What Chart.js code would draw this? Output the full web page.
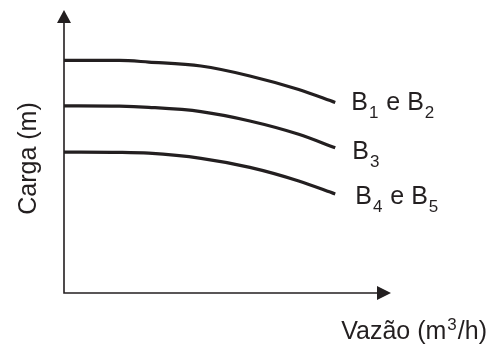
<!DOCTYPE html>
<html>
<head>
<meta charset="utf-8">
<script src="https://cdn.jsdelivr.net/npm/chart.js@4"></script>
<style>
  body { margin: 0; background: #fff; }
  canvas { display: block; }
</style>
</head>
<body>
<canvas id="grafico" width="490" height="345"></canvas>
<script>
// curvas das bombas (unidades relativas)
const vazao = [0, 17, 26, 42, 57, 72, 83.2];
const cargaB12 = [82.2, 82.2, 81.6, 80.2, 76.7, 71.9, 67.3];
const cargaB3 = [66.1, 66.0, 65.6, 64.1, 60.8, 56.1, 51.3];
const cargaB45 = [49.8, 49.7, 49.4, 47.6, 44.4, 39.6, 35.0];
const nomes = ['B_1 e B_2', 'B_3', 'B_4 e B_5'];
const tituloX = 'Vazão (m^3/h)';
const tituloY = 'Carga (m)';

const cor = '#231f20';
const fonte = '"Liberation Sans", Arial, sans-serif';

function pontos(ys) {
  return vazao.map((v, i) => ({ x: v, y: ys[i] }));
}

// escreve texto com _sub e ^sup
function textoRico(ctx, txt, x, y, tam) {
  const partes = txt.split(/([_^]\d)/);
  partes.forEach(p => {
    if (!p) return;
    if (p[0] === '_' || p[0] === '^') {
      const sub = p[0] === '_';
      ctx.font = Math.round(tam * 0.68) + 'px ' + fonte;
      const dy = sub ? tam * 0.32 : -tam * 0.38;
      ctx.fillText(p[1], x + 1, y + dy);
      x += ctx.measureText(p[1]).width + 2;
    } else {
      ctx.font = tam + 'px ' + fonte;
      ctx.fillText(p, x, y);
      x += ctx.measureText(p).width;
    }
  });
  return x;
}

function largura(ctx, txt, tam) {
  let w = 0;
  txt.split(/([_^]\d)/).forEach(p => {
    if (!p) return;
    if (p[0] === '_' || p[0] === '^') {
      ctx.font = Math.round(tam * 0.68) + 'px ' + fonte;
      w += ctx.measureText(p[1]).width + 2;
    } else {
      ctx.font = tam + 'px ' + fonte;
      w += ctx.measureText(p).width;
    }
  });
  return w;
}

const eixos = {
  id: 'eixos',
  beforeDatasetsDraw(chart) {
    const ctx = chart.ctx;
    const a = chart.chartArea;
    ctx.save();
    ctx.strokeStyle = cor;
    ctx.fillStyle = cor;
    ctx.lineWidth = 1.6;
    ctx.beginPath();
    ctx.moveTo(a.left, a.bottom);
    ctx.lineTo(a.left, a.top + 12);
    ctx.moveTo(a.left - 0.8, a.bottom);
    ctx.lineTo(a.right - 12, a.bottom);
    ctx.stroke();
    // setas
    ctx.beginPath();
    ctx.moveTo(a.left, a.top);
    ctx.lineTo(a.left - 7, a.top + 13);
    ctx.lineTo(a.left + 7, a.top + 13);
    ctx.closePath();
    ctx.fill();
    ctx.beginPath();
    ctx.moveTo(a.right + 1, a.bottom);
    ctx.lineTo(a.right - 13, a.bottom - 7);
    ctx.lineTo(a.right - 13, a.bottom + 7);
    ctx.closePath();
    ctx.fill();
    ctx.restore();
  },
  afterDatasetsDraw(chart) {
    const ctx = chart.ctx;
    const a = chart.chartArea;
    ctx.save();
    ctx.fillStyle = cor;
    ctx.textBaseline = 'alphabetic';
    ctx.textAlign = 'left';
    // nomes no fim de cada curva
    const desl = [[16, 7], [17, 11], [20, 10]];
    chart.data.datasets.forEach((ds, i) => {
      const meta = chart.getDatasetMeta(i);
      const ult = meta.data[meta.data.length - 1];
      textoRico(ctx, nomes[i], ult.x + desl[i][0], ult.y + desl[i][1], 25);
    });
    // titulo do eixo x
    const wx = largura(ctx, tituloX, 25);
    textoRico(ctx, tituloX, 487 - wx, 339, 25);
    // titulo do eixo y
    ctx.translate(36, (a.top + a.bottom) / 2 + 7);
    ctx.rotate(-Math.PI / 2);
    const wy = largura(ctx, tituloY, 25);
    textoRico(ctx, tituloY, -wy / 2, 0, 25);
    ctx.restore();
  }
};

const estilo = {
  borderColor: cor,
  borderWidth: 3.2,
  pointRadius: 0,
  fill: false,
  cubicInterpolationMode: 'monotone',
  clip: false
};

new Chart(document.getElementById('grafico'), {
  type: 'line',
  data: {
    datasets: [
      { label: 'B1 e B2', data: pontos(cargaB12), ...estilo },
      { label: 'B3', data: pontos(cargaB3), ...estilo },
      { label: 'B4 e B5', data: pontos(cargaB45), ...estilo }
    ]
  },
  options: {
    responsive: false,
    animation: false,
    layout: { padding: { left: 64, right: 100, top: 10, bottom: 52 } },
    scales: {
      x: { type: 'linear', min: 0, max: 100, display: false },
      y: { min: 0, max: 100, display: false }
    },
    plugins: { legend: { display: false }, tooltip: { enabled: false } }
  },
  plugins: [eixos]
});
</script>
</body>
</html>
